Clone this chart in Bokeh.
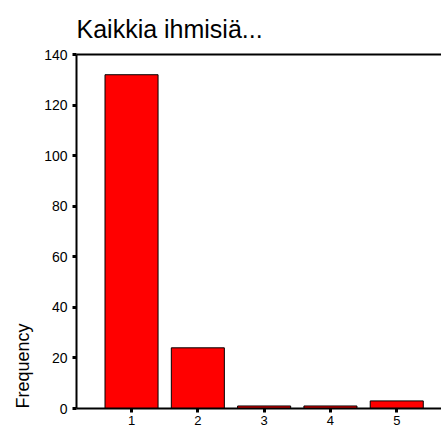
from bokeh.plotting import figure
from bokeh.models import LinearAxis, Title, FixedTicker, Range1d
from bokeh.embed import file_html
from bokeh.resources import INLINE

categories = [1, 2, 3, 4, 5]
counts = [132, 24, 1, 1, 3]
y_ticks = [0, 20, 40, 60, 80, 100, 120, 140]
title_text = "Kaikkia ihmisiä..."
y_label = "Frequency"

FONT = "Liberation Sans"

p = figure(frame_width=365, frame_height=354, output_backend="svg", toolbar_location=None,
           x_range=Range1d(0.17, 5.675), y_range=Range1d(0, 140),
           x_axis_location=None, y_axis_location=None,
           min_border_left=76, min_border_top=54, min_border_right=0, min_border_bottom=20)
p.outline_line_color = None
p.grid.visible = False
p.background_fill_color = "white"
p.border_fill_color = "white"

p.title.text = title_text
p.title.text_font = FONT
p.title.text_font_size = "25px"
p.title.text_font_style = "normal"
p.title.text_color = "black"
p.title.align = "left"
p.title.standoff = 24

p.vbar(x=categories, top=counts, width=0.8, fill_color="#ff0000", line_color="black", line_width=1)

def style(ax, size):
    ax.axis_line_color = "black"
    ax.axis_line_width = 2
    ax.major_tick_line_color = "black"
    ax.major_tick_line_width = 3
    ax.major_tick_in = 0
    ax.major_tick_out = 4
    ax.minor_tick_line_color = None
    ax.major_label_text_font = FONT
    ax.major_label_text_font_size = size
    ax.major_label_text_color = "black"

xa = LinearAxis(ticker=FixedTicker(ticks=categories))
style(xa, "13px")
xa.major_label_standoff = 3
p.add_layout(xa, "below")

ya = LinearAxis(ticker=FixedTicker(ticks=y_ticks))
style(ya, "14px")
ya.major_label_standoff = 5
p.add_layout(ya, "left")

top = LinearAxis(ticker=FixedTicker(ticks=[]))
top.axis_line_color = "black"
top.axis_line_width = 2
top.major_tick_line_color = None
top.minor_tick_line_color = None
top.major_label_text_font_size = "0px"
p.add_layout(top, "above")

ylab = Title(text=y_label, align="left", text_font=FONT, text_font_size="18px",
             text_font_style="normal", text_color="black", standoff=18)
p.add_layout(ylab, "left")

open("out.html", "w").write(file_html(p, INLINE))
